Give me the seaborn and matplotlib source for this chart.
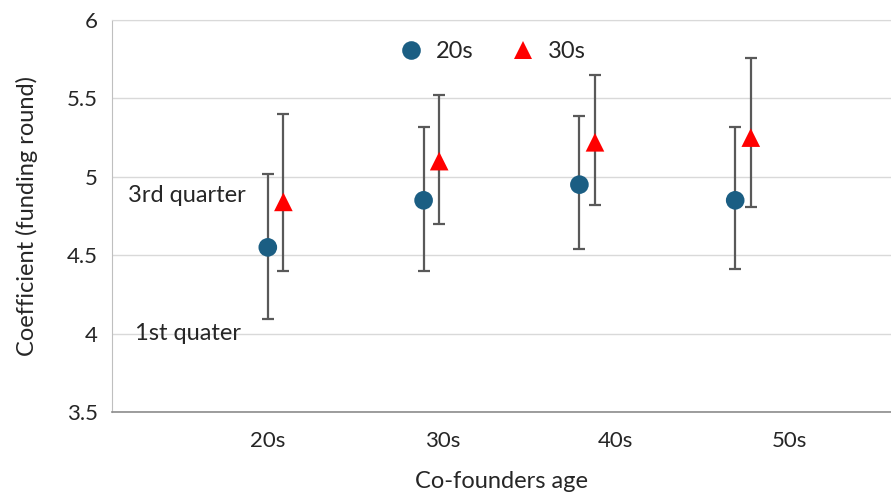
import matplotlib
matplotlib.use("Agg")
import matplotlib.pyplot as plt
import seaborn as sns
import pandas as pd

# data
ages = ["20s", "30s", "40s", "50s"]
x_20s = [1.0, 2.0, 3.0, 4.0]
x_30s = [1.1, 2.1, 3.1, 4.1]
tick_pos = [1.0, 2.12, 3.23, 4.35]

mean_20s = [4.55, 4.85, 4.95, 4.85]
lo_20s   = [4.09, 4.40, 4.54, 4.41]
hi_20s   = [5.02, 5.32, 5.39, 5.32]

mean_30s = [4.84, 5.10, 5.22, 5.25]
lo_30s   = [4.40, 4.70, 4.82, 4.81]
hi_30s   = [5.40, 5.52, 5.65, 5.76]

sns.set_style("white")
plt.rcParams["font.family"] = ["Lato", "DejaVu Sans"]

df = pd.DataFrame({
    "x": x_20s + x_30s,
    "coef": mean_20s + mean_30s,
    "group": ["20s"] * 4 + ["30s"] * 4,
})

fig = plt.figure(figsize=(8.91, 4.95), dpi=100)
ax = fig.add_axes([112 / 891, 83 / 495, 779 / 891, 392 / 495])

err_kw = dict(fmt="none", ecolor="#595959", elinewidth=1.6, capsize=4, capthick=1.6, zorder=2)
ax.errorbar(x_20s, mean_20s,
            yerr=[[m - l for m, l in zip(mean_20s, lo_20s)], [h - m for h, m in zip(hi_20s, mean_20s)]],
            **err_kw)
ax.errorbar(x_30s, mean_30s,
            yerr=[[m - l for m, l in zip(mean_30s, lo_30s)], [h - m for h, m in zip(hi_30s, mean_30s)]],
            **err_kw)

sns.scatterplot(data=df, x="x", y="coef", hue="group", style="group",
                palette={"20s": "#1B5E83", "30s": "#FF0000"},
                markers={"20s": "o", "30s": "^"}, s=180, linewidth=0,
                zorder=3, ax=ax)

ax.set_xlim(0, 5)
ax.set_ylim(3.5, 6)
ax.set_yticks([3.5, 4, 4.5, 5, 5.5, 6])
ax.set_yticklabels(["3.5", "4", "4.5", "5", "5.5", "6"])
ax.set_xticks(tick_pos)
ax.set_xticklabels(ages)
ax.tick_params(axis="both", length=0, labelsize=16, pad=10)
ax.tick_params(axis="x", pad=14)

ax.yaxis.grid(True, color="#d9d9d9", linewidth=1)
ax.set_axisbelow(True)
ax.spines["right"].set_visible(False)
ax.spines["top"].set_color("#d9d9d9")
ax.spines["left"].set_color("#bfbfbf")
ax.spines["bottom"].set_color("#8c8c8c")
ax.spines["bottom"].set_linewidth(1.2)

ax.set_xlabel("Co-founders age", fontsize=17, labelpad=14)
ax.set_ylabel("Coefficient (funding round)", fontsize=17, labelpad=21)

ax.text(0.1, 4.88, "3rd quarter", fontsize=17, va="center", ha="left")
ax.text(0.15, 4.0, "1st quater", fontsize=17, va="center", ha="left")

leg = ax.legend(loc="upper center", bbox_to_anchor=(0.481, 1.0), ncol=2,
                frameon=False, fontsize=17, handletextpad=0.05, columnspacing=1.1,
                markerscale=1.0)
leg.set_title(None)

fig.savefig("out.png", dpi=100)
